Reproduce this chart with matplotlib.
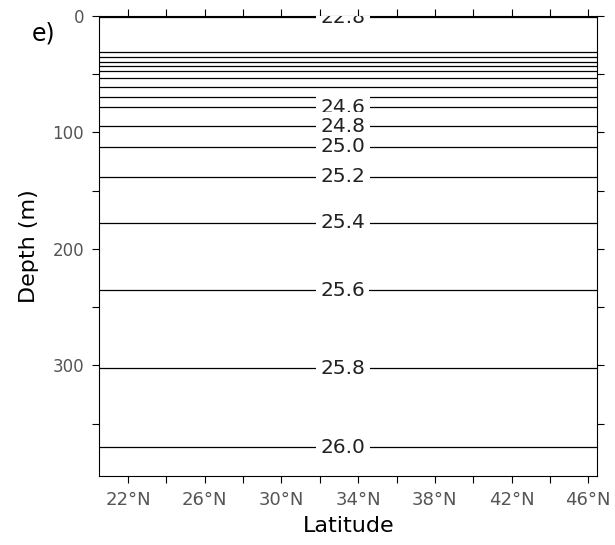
import matplotlib
matplotlib.use("Agg")
import matplotlib.pyplot as plt
from matplotlib.ticker import MultipleLocator, FuncFormatter

# isopycnal levels (sigma-theta) and the depth (m) at which each sits
sigma_levels = [22.8, 23.0, 23.2, 23.4, 23.6, 23.8, 24.0, 24.2, 24.4,
                24.6, 24.8, 25.0, 25.2, 25.4, 25.6, 25.8, 26.0]
iso_depth = [1.5, 30.9, 35.2, 39.5, 43.2, 47.2, 53.7, 61.5, 69.5,
             78.6, 94.7, 112.4, 138.2, 177.7, 235.5, 302.7, 370.5]
labelled = [22.8, 24.6, 24.8, 25.0, 25.2, 25.4, 25.6, 25.8, 26.0]

lat_ticks = [22, 26, 30, 34, 38, 42, 46]
depth_ticks = [0, 100, 200, 300]

lat_min, lat_max = 20.5, 46.47
depth_max = 394.8
label_lat = 33.2

fig = plt.figure(figsize=(6.15, 5.45), dpi=100)
ax = fig.add_axes([0.1615, 0.127, 0.8097, 0.8442])

for lev, d in zip(sigma_levels, iso_depth):
    ax.hlines(d, lat_min, lat_max, color="black", lw=0.9, zorder=2)
    if lev in labelled:
        ax.text(label_lat, d, "%.1f" % lev, ha="center", va="center",
                fontsize=14.5, color="#222222", family="DejaVu Sans",
                bbox=dict(facecolor="white", edgecolor="none", pad=3),
                zorder=3, clip_on=True)

ax.set_xlim(lat_min, lat_max)
ax.set_ylim(depth_max, 0)

ax.set_xticks(lat_ticks)
ax.xaxis.set_minor_locator(MultipleLocator(2))
ax.xaxis.set_major_formatter(FuncFormatter(lambda v, p: "%d°N" % v))
ax.set_yticks(depth_ticks)
ax.yaxis.set_minor_locator(MultipleLocator(50))

ax.tick_params(which="both", direction="out", length=5, width=0.8,
               top=True, right=True, labelcolor="#555555")
ax.tick_params(axis="x", labelsize=13, pad=6)
ax.tick_params(axis="y", labelsize=12, pad=6)
for lab in ax.get_xticklabels() + ax.get_yticklabels():
    lab.set_family("DejaVu Sans")

for s in ax.spines.values():
    s.set_linewidth(0.8)

ax.set_xlabel("Latitude", fontsize=16, family="DejaVu Sans", labelpad=5)
ax.set_ylabel("Depth (m)", fontsize=16, family="DejaVu Sans", labelpad=10)
fig.text(0.052, 0.925, "e)", fontsize=17, family="DejaVu Sans")

fig.savefig("out.png", dpi=100)
